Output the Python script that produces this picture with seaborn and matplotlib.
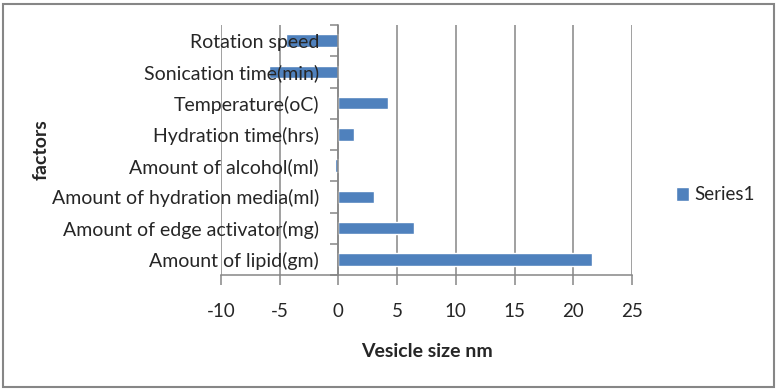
import matplotlib
matplotlib.use("Agg")
import matplotlib.pyplot as plt
from matplotlib.patches import Rectangle
import seaborn as sns
import pandas as pd

# values (top to bottom)
factors = ["Rotation speed", "Sonication time(min)", "Temperature(oC)",
           "Hydration time(hrs)", "Amount of alcohol(ml)",
           "Amount of hydration media(ml)", "Amount of edge activator(mg)",
           "Amount of lipid(gm)"]
vesicle_size = [-4.5, -5.9, 4.25, 1.35, -0.3, 3.05, 6.45, 21.6]
x_ticks = [-10, -5, 0, 5, 10, 15, 20, 25]

df = pd.DataFrame({"factor": factors, "size": vesicle_size})

sns.set_style("white")
plt.rcParams["font.family"] = ["Lato", "DejaVu Sans"]
grey = "#868686"

fig = plt.figure(figsize=(7.78, 3.90), dpi=100)
ax = fig.add_axes([221 / 778, 1 - 275 / 390, 411 / 778, 250 / 390])

sns.barplot(data=df, x="size", y="factor", order=factors, orient="h",
            color="#4F81BD", saturation=1, width=0.4, label="Series1", ax=ax)

ax.set_xlim(-10, 25)
ax.set_ylim(len(factors) - 0.5, -0.5)
ax.set_xticks(x_ticks)
ax.set_xticklabels([str(t) for t in x_ticks], fontsize=13.5)
ax.xaxis.grid(True, color=grey, linewidth=1.1)
ax.set_axisbelow(True)
# category labels drawn on top of the bars, as in the reference
ax.yaxis.set_zorder(3)

# category axis sits at zero, ticks between categories
ax.spines["left"].set_position(("data", 0))
for s in ["top", "right"]:
    ax.spines[s].set_visible(False)
for s in ["left", "bottom"]:
    ax.spines[s].set_color(grey)
    ax.spines[s].set_linewidth(1.1)
ax.set_yticks(range(len(factors)))
ax.set_yticks([i - 0.5 for i in range(len(factors) + 1)], minor=True)
ax.tick_params(axis="y", which="major", length=0, pad=14, labelsize=14)
ax.tick_params(axis="y", which="minor", length=6, width=1.1, color=grey,
               direction="out", left=True)
ax.tick_params(axis="x", length=7, width=1.1, color=grey, direction="out",
               bottom=True, pad=13)

ax.set_xlabel("Vesicle size nm", fontsize=14, fontweight="bold", labelpad=17)
ax.set_ylabel("factors", fontsize=14, fontweight="bold")
ax.yaxis.set_label_coords(-0.416, 0.5)

ax.legend(loc="center left", bbox_to_anchor=(676 / 778, 0.5),
          bbox_transform=fig.transFigure, frameon=False, fontsize=13.5,
          handlelength=0.7, handleheight=0.7, handletextpad=0.3,
          borderpad=0, borderaxespad=0)

fig.patches.append(Rectangle((3 / 778, 3 / 390), 771 / 778, 383 / 390,
                             transform=fig.transFigure, fill=False,
                             edgecolor=grey, linewidth=1.5))

fig.savefig("out.png", dpi=100)
